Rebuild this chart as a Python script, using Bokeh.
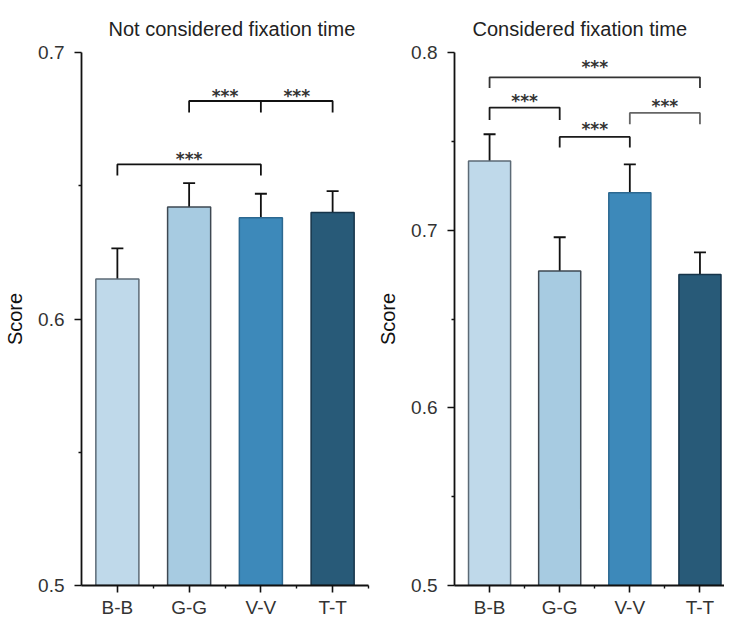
from bokeh.plotting import figure
from bokeh.layouts import row
from bokeh.models import Range1d, FixedTicker, ColumnDataSource, Whisker, TeeHead
from bokeh.core.properties import value
from bokeh.embed import file_html
from bokeh.resources import INLINE

categories = ["B-B", "G-G", "V-V", "T-T"]
bar_colors = ["#bfd9ea", "#a7cbe1", "#3d89ba", "#285a78"]
edge_colors = ["#5c6a76", "#3e4852", "#2c6890", "#16344a"]

left_title = "Not considered fixation time"
left_means = [0.615, 0.642, 0.638, 0.640]
left_errs = [0.0115, 0.009, 0.009, 0.008]
left_yticks = [0.5, 0.6, 0.7]
left_yminor = [0.55, 0.65]
left_br_x1 = [2, 1]
left_br_x2 = [4, 3]
left_br_top = [0.6818, 0.658]
left_br_leg = [0.6775, 0.6538]
left_br_mid = [3, None]
left_star_x = [2.5, 3.5, 2.0]
left_star_y = [0.6856, 0.6856, 0.6618]

right_title = "Considered fixation time"
right_means = [0.739, 0.677, 0.721, 0.675]
right_errs = [0.015, 0.019, 0.016, 0.0125]
right_yticks = [0.5, 0.6, 0.7, 0.8]
right_yminor = [0.55, 0.65, 0.75]
right_br_x1 = [1, 1, 2, 3]
right_br_x2 = [4, 2, 3, 4]
right_br_top = [0.786, 0.769, 0.7525, 0.766]
right_br_leg = [0.780, 0.762, 0.7465, 0.7596]
right_br_mid = [None, None, None, None]
right_br_colors = ["#333333", "#1a1a1a", "#1a1a1a", "#666666"]
right_star_x = [2.5, 1.5, 2.5, 3.5]
right_star_y = [0.7945, 0.7755, 0.7595, 0.7725]

FONT = "Liberation Sans"


def make_panel(title, means, errs, ymin, ymax, yticks, yminor, xmax,
               br_x1, br_x2, br_top, br_leg, br_mid, br_colors,
               star_x, star_y, width, border_left, border_right, title_offset):
    p = figure(width=width, height=620, output_backend="svg", toolbar_location=None,
               x_range=Range1d(0.5, xmax), y_range=Range1d(ymin, ymax),
               min_border_left=border_left, min_border_right=border_right,
               min_border_top=52, min_border_bottom=33)
    p.outline_line_color = None
    p.xgrid.visible = False
    p.ygrid.visible = False
    p.background_fill_color = "white"

    p.title.text = title
    p.title.text_font = FONT
    p.title.text_font_size = "20px"
    p.title.text_font_style = "normal"
    p.title.text_color = "#222222"
    p.title.align = "left"
    p.title.offset = title_offset
    p.title.standoff = 26

    xs = list(range(1, len(categories) + 1))
    src = ColumnDataSource(dict(x=xs, top=means, color=bar_colors, edge=edge_colors,
                                upper=[m + e for m, e in zip(means, errs)],
                                lower=[m - e for m, e in zip(means, errs)]))
    p.vbar(x="x", top="top", bottom=ymin, width=0.6, source=src,
           fill_color="color", line_color="edge", line_width=1.5)

    w = Whisker(base="x", upper="upper", lower="lower", source=src,
                line_color="#111111", line_width=1.8,
                upper_head=TeeHead(size=12, line_color="#111111", line_width=1.8),
                lower_head=TeeHead(size=12, line_color="#111111", line_width=1.8))
    p.add_layout(w)

    mxs, mys, cols = [], [], []
    for i in range(len(br_x1)):
        mxs.append([br_x1[i], br_x1[i], br_x2[i], br_x2[i]])
        mys.append([br_leg[i], br_top[i], br_top[i], br_leg[i]])
        cols.append(br_colors[i])
        if br_mid[i] is not None:
            mxs.append([br_mid[i], br_mid[i]])
            mys.append([br_top[i], br_leg[i]])
            cols.append(br_colors[i])
    p.multi_line(xs=mxs, ys=mys, line_color=cols, line_width=1.8)

    p.text(x=star_x, y=star_y, text=["***"] * len(star_x), text_align="center",
           text_baseline="middle", text_font=value("DejaVu Sans"), text_font_size="17px",
           text_font_style="bold", text_color="#333333", y_offset=5)

    p.xaxis.ticker = FixedTicker(ticks=xs, minor_ticks=[x + 0.5 for x in xs])
    p.xaxis.major_label_overrides = {x: c for x, c in zip(xs, categories)}
    p.yaxis.ticker = FixedTicker(ticks=yticks, minor_ticks=yminor)
    p.yaxis.axis_label = "Score"
    p.yaxis.axis_label_text_font = FONT
    p.yaxis.axis_label_text_font_size = "20px"
    p.yaxis.axis_label_text_font_style = "normal"
    p.yaxis.axis_label_text_color = "#111111"
    p.yaxis.axis_label_standoff = 9
    for ax in (p.xaxis, p.yaxis):
        ax.axis_line_color = "#111111"
        ax.axis_line_width = 1.8
        ax.major_tick_line_color = "#111111"
        ax.major_tick_line_width = 1.6
        ax.major_tick_out = 7
        ax.major_tick_in = 0
        ax.minor_tick_line_color = "#111111"
        ax.minor_tick_line_width = 1.4
        ax.minor_tick_out = 3
        ax.minor_tick_in = 0
        ax.major_label_text_font = FONT
        ax.major_label_text_font_size = "19px"
        ax.major_label_text_color = "#333333"
    p.yaxis.major_label_standoff = 10
    p.xaxis.major_label_standoff = 4
    return p


p1 = make_panel(left_title, left_means, left_errs, 0.5, 0.7, left_yticks, left_yminor, 4.5,
                left_br_x1, left_br_x2, left_br_top, left_br_leg, left_br_mid,
                ["#111111"] * len(left_br_x1), left_star_x, left_star_y,
                width=373, border_left=81, border_right=5, title_offset=27)
p2 = make_panel(right_title, right_means, right_errs, 0.5, 0.8, right_yticks, right_yminor, 4.35,
                right_br_x1, right_br_x2, right_br_top, right_br_leg, right_br_mid,
                right_br_colors, right_star_x, right_star_y,
                width=351, border_left=81, border_right=0, title_offset=18)

layout = row(p1, p2)
open("out.html", "w").write(file_html(layout, INLINE))
